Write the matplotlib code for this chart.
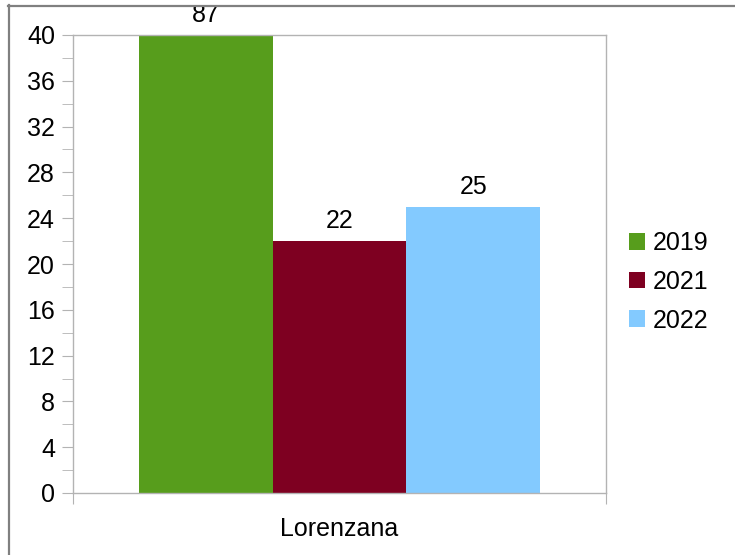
import matplotlib
matplotlib.use('Agg')
import matplotlib.pyplot as plt
from matplotlib.patches import Patch, Rectangle
from matplotlib.lines import Line2D
import numpy as np

plt.rcParams['font.family'] = ['Liberation Sans', 'DejaVu Sans']

# chart data
category = 'Lorenzana'
years = ['2019', '2021', '2022']
values = [87, 22, 25]
colors = ['#579d1c', '#7e0021', '#83caff']
y_max = 40
y_ticks = list(range(0, 41, 4))

fs = 18

fig = plt.figure(figsize=(7.35, 5.55), dpi=100)
ax = fig.add_axes([73 / 735, 1 - 493 / 555, 533 / 735, 458 / 555])

bar_w = 0.2508
offsets = [-bar_w, 0, bar_w]
for off, val, col, yr in zip(offsets, values, colors, years):
    ax.bar(off, val, width=bar_w, color=col, label=yr, zorder=2)
    ax.annotate(str(val), xy=(off, min(val, y_max)), xytext=(0, 9.4),
                textcoords='offset points', ha='center', va='baseline',
                fontsize=fs, annotation_clip=False, zorder=3)

ax.set_xlim(-0.5, 0.5)
ax.set_ylim(0, y_max)

grey = '#b3b3b3'
for sp in ax.spines.values():
    sp.set_color(grey)
    sp.set_linewidth(1.0)

ax.set_yticks(y_ticks)
ax.set_yticks(np.arange(2, 40, 4), minor=True)
ax.tick_params(axis='y', which='both', length=8, color=grey, labelsize=fs, pad=5)

ax.set_xticks([-0.5, 0.5])
ax.set_xticklabels(['', ''])
ax.set_xticks([0], minor=True)
ax.set_xticklabels([category], minor=True)
ax.tick_params(axis='x', which='major', length=8, color=grey)
ax.tick_params(axis='x', which='minor', length=0, labelsize=fs, pad=17)

handles = [Patch(facecolor=c, edgecolor='none') for c in colors]
fig.legend(handles, years, loc='center left', bbox_to_anchor=(629 / 735, 1 - 282 / 555),
           frameon=False, fontsize=fs, handlelength=0.64, handleheight=0.64,
           handletextpad=0.33, labelspacing=0.58, borderpad=0, borderaxespad=0)

# outer frame; the strip above it hides anything spilling over the top
fig.patches.append(Rectangle((0, 1 - 7 / 555), 1, 7 / 555, transform=fig.transFigure,
                             facecolor='white', edgecolor='none', zorder=5))
fig.lines.append(Line2D([8 / 735, 734 / 735], [1 - 5.5 / 555, 1 - 5.5 / 555],
                        transform=fig.transFigure, color='#808080', lw=1.6, zorder=6))
fig.lines.append(Line2D([8.5 / 735, 8.5 / 735], [0, 1 - 5 / 555],
                        transform=fig.transFigure, color='#808080', lw=1.6, zorder=6))

fig.savefig('out.png', dpi=100)
